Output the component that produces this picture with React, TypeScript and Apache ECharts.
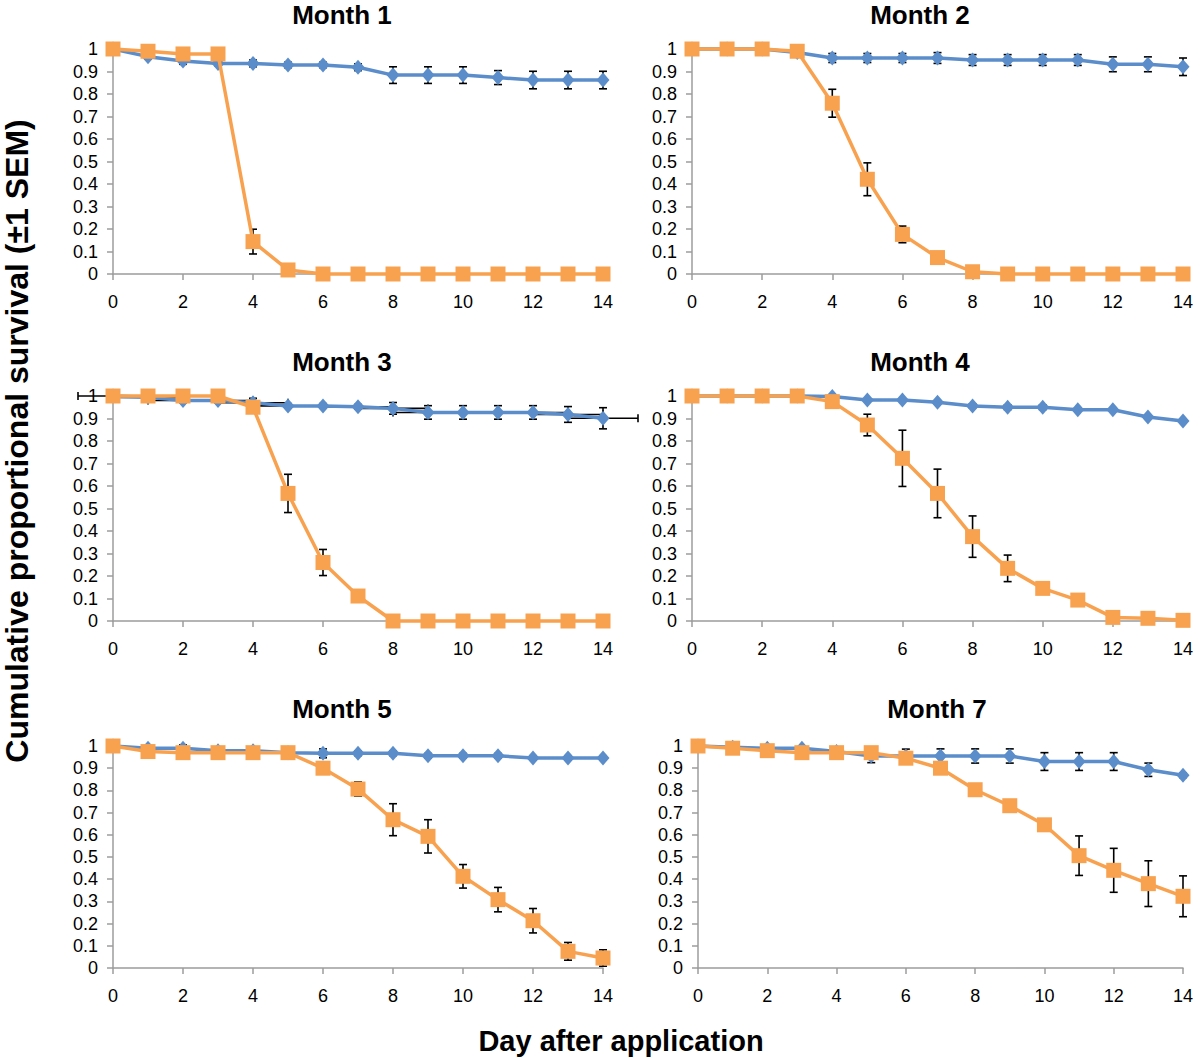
import React, { useEffect, useRef } from "react";
import * as echarts from "echarts";

const days = [0, 1, 2, 3, 4, 5, 6, 7, 8, 9, 10, 11, 12, 13, 14];
const panelTitles = ["Month 1", "Month 2", "Month 3", "Month 4", "Month 5", "Month 7"];
const xTickLabels = ["0", "2", "4", "6", "8", "10", "12", "14"];
const yTickLabels = ["0", "0.1", "0.2", "0.3", "0.4", "0.5", "0.6", "0.7", "0.8", "0.9", "1"];
const yAxisTitle = "Cumulative proportional survival (±1 SEM)";
const xAxisTitle = "Day after application";

// Month 1
const m1Blue = [1, 0.966, 0.947, 0.936, 0.936, 0.929, 0.929, 0.919, 0.884, 0.884, 0.884, 0.873, 0.862, 0.862, 0.862];
const m1BlueErr = [0, 0.01, 0.015, 0.01, 0.015, 0.012, 0.012, 0.015, 0.037, 0.037, 0.037, 0.031, 0.039, 0.039, 0.039];
const m1Orange = [1, 0.99, 0.978, 0.978, 0.144, 0.018, 0, 0, 0, 0, 0, 0, 0, 0, 0];
const m1OrangeErr = [0, 0, 0, 0, 0.055, 0, 0, 0, 0, 0, 0, 0, 0, 0, 0];
// Month 2
const m2Blue = [1, 1, 1, 0.984, 0.96, 0.96, 0.96, 0.96, 0.951, 0.951, 0.951, 0.951, 0.932, 0.932, 0.921];
const m2BlueErr = [0, 0, 0, 0.01, 0.02, 0.02, 0.02, 0.024, 0.024, 0.024, 0.024, 0.024, 0.033, 0.033, 0.039];
const m2Orange = [1, 1, 1, 0.99, 0.759, 0.421, 0.176, 0.073, 0.01, 0, 0, 0, 0, 0, 0];
const m2OrangeErr = [0, 0, 0, 0, 0.062, 0.073, 0.037, 0, 0, 0, 0, 0, 0, 0, 0];
// Month 3
const m3Blue = [1, 0.994, 0.98, 0.98, 0.97, 0.956, 0.956, 0.952, 0.945, 0.927, 0.927, 0.927, 0.927, 0.918, 0.901];
const m3BlueErr = [0, 0, 0.01, 0.01, 0.02, 0.01, 0.01, 0.01, 0.026, 0.03, 0.03, 0.03, 0.03, 0.035, 0.047];
const m3BlueXErr = [1, 1, 1, 1, 1, 1, 1, 1, 1, 1, 1, 1, 1, 1, 1];
const m3Orange = [1, 1, 1, 1, 0.95, 0.567, 0.26, 0.111, 0, 0, 0, 0, 0, 0, 0];
const m3OrangeErr = [0, 0, 0, 0, 0, 0.085, 0.058, 0, 0, 0, 0, 0, 0, 0, 0];
// Month 4
const m4Blue = [1, 1, 1, 1, 0.998, 0.982, 0.982, 0.972, 0.956, 0.95, 0.95, 0.939, 0.939, 0.907, 0.889];
const m4BlueErr = [0, 0, 0, 0, 0.005, 0.005, 0.005, 0.005, 0.008, 0.01, 0.01, 0.005, 0.005, 0.005, 0.005];
const m4Orange = [1, 1, 1, 1, 0.975, 0.871, 0.723, 0.567, 0.375, 0.234, 0.145, 0.093, 0.016, 0.012, 0.003];
const m4OrangeErr = [0, 0, 0, 0, 0, 0.048, 0.125, 0.108, 0.092, 0.059, 0.015, 0, 0, 0, 0];
// Month 5
const m5Blue = [1, 0.99, 0.99, 0.979, 0.979, 0.97, 0.967, 0.967, 0.967, 0.956, 0.956, 0.956, 0.946, 0.946, 0.946];
const m5BlueErr = [0, 0.01, 0.015, 0.005, 0.005, 0.005, 0.02, 0.01, 0.01, 0.01, 0.01, 0.01, 0.01, 0.01, 0.01];
const m5Orange = [1, 0.975, 0.97, 0.97, 0.97, 0.97, 0.9, 0.806, 0.668, 0.593, 0.413, 0.308, 0.213, 0.075, 0.045];
const m5OrangeErr = [0, 0, 0, 0, 0, 0, 0.025, 0.032, 0.072, 0.075, 0.053, 0.055, 0.055, 0.04, 0.037];
// Month 7
const m7Blue = [1, 0.994, 0.99, 0.99, 0.975, 0.955, 0.955, 0.955, 0.955, 0.955, 0.93, 0.93, 0.93, 0.893, 0.868];
const m7BlueErr = [0, 0, 0.01, 0.01, 0.01, 0.03, 0.031, 0.032, 0.032, 0.032, 0.04, 0.04, 0.04, 0.03, 0.01];
const m7Orange = [1, 0.99, 0.979, 0.97, 0.97, 0.97, 0.945, 0.9, 0.803, 0.731, 0.645, 0.506, 0.44, 0.38, 0.323];
const m7OrangeErr = [0, 0, 0, 0, 0, 0, 0, 0, 0, 0, 0.015, 0.089, 0.099, 0.103, 0.092];

const panels = [
  { blue: m1Blue, blueErr: m1BlueErr, orange: m1Orange, orangeErr: m1OrangeErr, blueXErr: null as number[] | null },
  { blue: m2Blue, blueErr: m2BlueErr, orange: m2Orange, orangeErr: m2OrangeErr, blueXErr: null },
  { blue: m3Blue, blueErr: m3BlueErr, orange: m3Orange, orangeErr: m3OrangeErr, blueXErr: m3BlueXErr },
  { blue: m4Blue, blueErr: m4BlueErr, orange: m4Orange, orangeErr: m4OrangeErr, blueXErr: null },
  { blue: m5Blue, blueErr: m5BlueErr, orange: m5Orange, orangeErr: m5OrangeErr, blueXErr: null },
  { blue: m7Blue, blueErr: m7BlueErr, orange: m7Orange, orangeErr: m7OrangeErr, blueXErr: null },
];

const grids = [
  { left: 113, top: 49, width: 490, height: 225 },
  { left: 692, top: 49, width: 491, height: 225 },
  { left: 113, top: 396, width: 490, height: 225 },
  { left: 692, top: 396, width: 491, height: 225 },
  { left: 113, top: 746, width: 490, height: 222 },
  { left: 698, top: 746, width: 485, height: 222 },
];
const titlePos = [
  [342, 15], [920, 15], [342, 362], [920, 362], [342, 709], [937, 709],
];

const FONT = "'Liberation Sans', Arial, Helvetica, sans-serif";
const BLUE = "#5A8DCA";
const ORANGE = "#F8A250";
const AXIS = "#9c9c9c";

const errStyle = { stroke: "#000", lineWidth: 1.6 };

const yErrRender = (params: any, api: any) => {
  const x = api.value(0);
  const y = api.value(1);
  const e = api.value(2);
  if (!e) return null;
  const top = api.coord([x, y + e]);
  const bot = api.coord([x, y - e]);
  const cap = 4;
  return {
    type: "group",
    children: [
      { type: "line", shape: { x1: top[0], y1: top[1], x2: bot[0], y2: bot[1] }, style: errStyle },
      { type: "line", shape: { x1: top[0] - cap, y1: top[1], x2: top[0] + cap, y2: top[1] }, style: errStyle },
      { type: "line", shape: { x1: bot[0] - cap, y1: bot[1], x2: bot[0] + cap, y2: bot[1] }, style: errStyle },
    ],
  };
};

const xErrRender = (params: any, api: any) => {
  const x = api.value(0);
  const y = api.value(1);
  const e = api.value(2);
  if (!e) return null;
  const l = api.coord([x - e, y]);
  const r = api.coord([x + e, y]);
  const cap = 4;
  return {
    type: "group",
    children: [
      { type: "line", shape: { x1: l[0], y1: l[1], x2: r[0], y2: r[1] }, style: errStyle },
      { type: "line", shape: { x1: l[0], y1: l[1] - cap, x2: l[0], y2: l[1] + cap }, style: errStyle },
      { type: "line", shape: { x1: r[0], y1: r[1] - cap, x2: r[0], y2: r[1] + cap }, style: errStyle },
    ],
  };
};

function buildOption() {
  const grid = grids.map((g) => ({ ...g, containLabel: false }));
  const xAxis = grids.map((_, i) => ({
    type: "value",
    gridIndex: i,
    min: 0,
    max: 14,
    interval: 2,
    splitLine: { show: false },
    axisLine: { show: true, onZero: false, lineStyle: { color: AXIS, width: 1.5 } },
    axisTick: { show: true, length: 6, lineStyle: { color: AXIS, width: 1.5 } },
    axisLabel: {
      color: "#000",
      fontFamily: FONT,
      fontSize: 18,
      margin: 19,
      formatter: (v: number) => xTickLabels[Math.round(v / 2)] ?? "",
    },
  }));
  const yAxis = grids.map((_, i) => ({
    type: "value",
    gridIndex: i,
    min: 0,
    max: 1,
    interval: 0.1,
    splitLine: { show: false },
    axisLine: { show: true, lineStyle: { color: AXIS, width: 1.5 } },
    axisTick: { show: true, length: 6, lineStyle: { color: AXIS, width: 1.5 } },
    axisLabel: {
      color: "#000",
      fontFamily: FONT,
      fontSize: 18,
      margin: 15,
      formatter: (v: number) => yTickLabels[Math.round(v * 10)] ?? "",
    },
  }));

  const series: any[] = [];
  panels.forEach((p, i) => {
    if (p.blueXErr) {
      series.push({
        type: "custom",
        xAxisIndex: i,
        yAxisIndex: i,
        z: 1,
        clip: false,
        renderItem: xErrRender,
        data: days.map((d, k) => [d, p.blue[k], p.blueXErr![k]]),
      });
    }
    series.push({
      type: "custom",
      xAxisIndex: i,
      yAxisIndex: i,
      z: 1,
      clip: false,
      renderItem: yErrRender,
      data: days.map((d, k) => [d, p.blue[k], p.blueErr[k]]),
    });
    series.push({
      type: "custom",
      xAxisIndex: i,
      yAxisIndex: i,
      z: 1,
      clip: false,
      renderItem: yErrRender,
      data: days.map((d, k) => [d, p.orange[k], p.orangeErr[k]]),
    });
    series.push({
      type: "line",
      xAxisIndex: i,
      yAxisIndex: i,
      z: 2,
      data: days.map((d, k) => [d, p.blue[k]]),
      symbol: "diamond",
      symbolSize: [13, 15],
      itemStyle: { color: BLUE },
      lineStyle: { color: BLUE, width: 3.5 },
      clip: false,
    });
    series.push({
      type: "line",
      xAxisIndex: i,
      yAxisIndex: i,
      z: 3,
      data: days.map((d, k) => [d, p.orange[k]]),
      symbol: "rect",
      symbolSize: 15,
      itemStyle: { color: ORANGE },
      lineStyle: { color: ORANGE, width: 3.5 },
      clip: false,
    });
  });

  const graphic: any[] = panelTitles.map((t, i) => ({
    type: "text",
    x: titlePos[i][0],
    y: titlePos[i][1],
    style: {
      text: t,
      font: `bold 26px ${FONT}`,
      fill: "#000",
      textAlign: "center",
      textVerticalAlign: "middle",
    },
  }));
  graphic.push({
    type: "text",
    x: 17,
    y: 441,
    rotation: Math.PI / 2,
    style: {
      text: yAxisTitle,
      font: `bold 32px ${FONT}`,
      fill: "#000",
      textAlign: "center",
      textVerticalAlign: "middle",
    },
  });
  graphic.push({
    type: "text",
    x: 621,
    y: 1041,
    style: {
      text: xAxisTitle,
      font: `bold 29px ${FONT}`,
      fill: "#000",
      textAlign: "center",
      textVerticalAlign: "middle",
    },
  });

  return {
    animation: false,
    backgroundColor: "#fff",
    grid,
    xAxis,
    yAxis,
    series,
    graphic,
  };
}

export default function App() {
  const ref = useRef<HTMLDivElement>(null);
  useEffect(() => {
    if (!ref.current) return;
    const chart = echarts.init(ref.current, undefined, { renderer: "svg" });
    chart.setOption(buildOption() as any);
    return () => chart.dispose();
  }, []);
  return (
    <div
      ref={ref}
      style={{ position: "absolute", left: 0, top: 0, width: 1200, height: 1058, background: "#fff" }}
    />
  );
}
